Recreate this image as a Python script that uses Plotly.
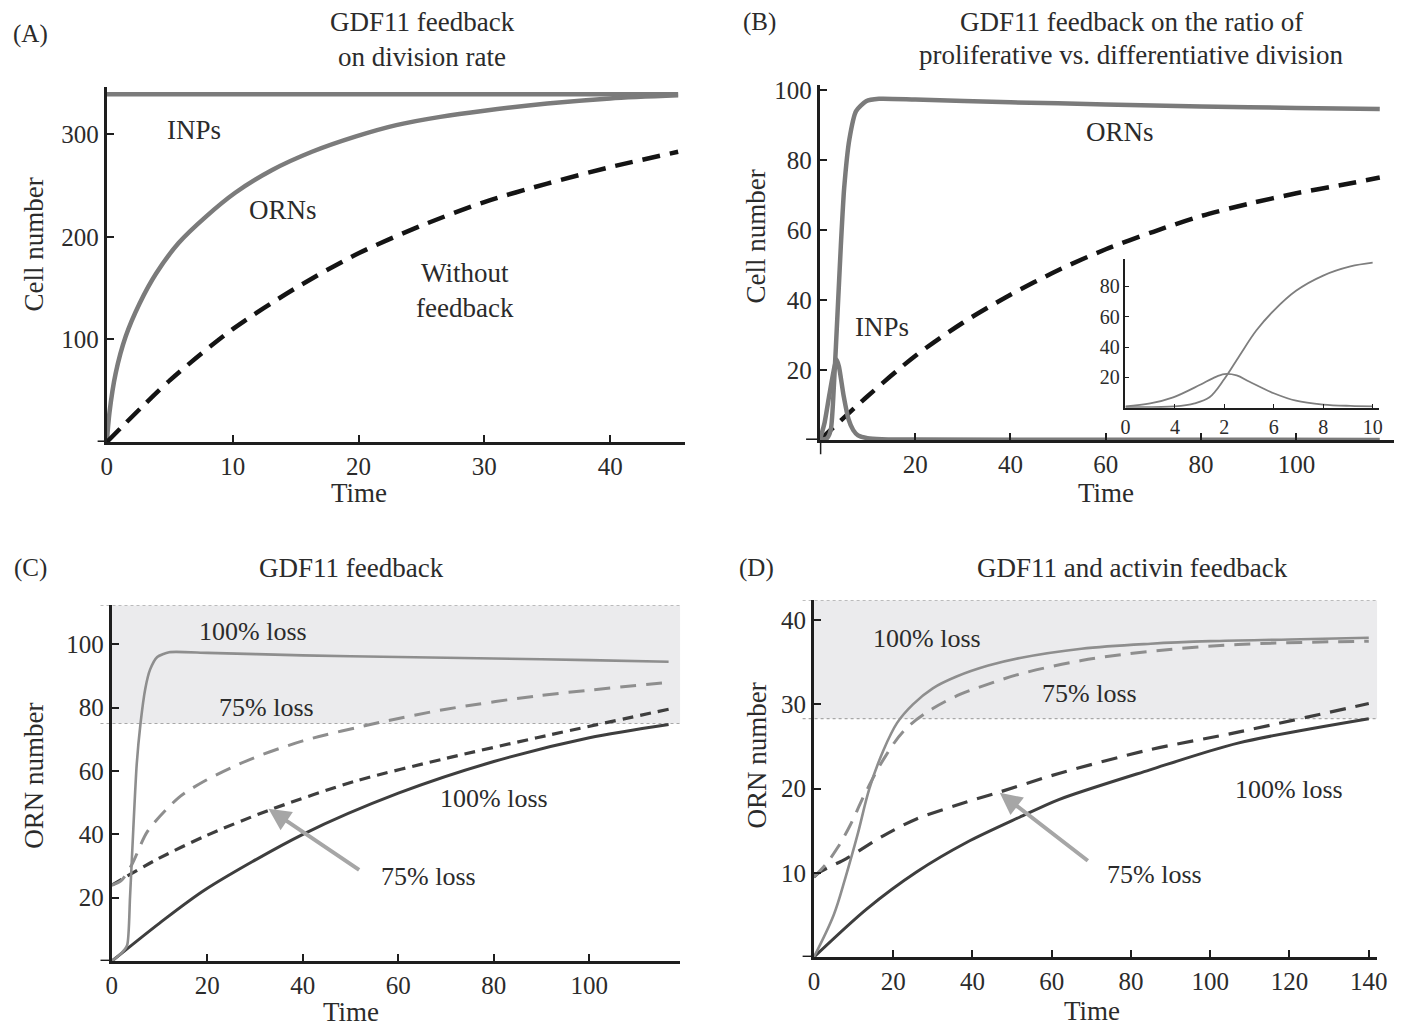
import plotly.graph_objects as go

W, H = 1405, 1027
FONT = "Liberation Serif"
TXT = "#2b2b2b"

# ---------------- data ----------------
# Panel A
a_t_orn = [0, 0.2, 0.7, 1.5, 2.6, 3.9, 5.7, 7.9, 10.2, 13.1, 16.3, 19.8, 23.0, 26.5, 30.0, 35.0, 40.0, 45.4]
a_orn = [0, 28, 67, 103, 135, 164, 194, 220, 243, 265, 283, 298, 309, 317, 323, 330, 335, 338]
a_t_inp = [0, 10, 20, 30, 40, 45.4]
a_inp = [339, 339, 339, 339, 339, 339]
a_t_nofb = [0, 5, 10, 15, 20, 25, 30, 35, 40, 45.4]
a_nofb = [0, 60, 110, 150, 184, 211, 234, 252, 268, 283]

# Panel B
b_t_orn = [0, 1.5, 2.3, 3.0, 3.7, 4.4, 5.1, 6.2, 7.6, 9.7, 12.4, 20, 40, 60, 80, 100, 117.5]
b_orn = [0, 0.5, 3, 17, 36, 55.5, 72, 86, 94, 96.8, 97.5, 97.3, 96.5, 95.9, 95.3, 94.9, 94.6]
b_t_inp = [0, 1, 2, 3, 3.5, 4, 5, 6, 7, 8, 10, 13, 20, 117.5]
b_inp = [0, 5, 13, 20.5, 23, 21, 12.5, 6, 2.8, 1.3, 0.5, 0.2, 0.1, 0]
b_t_nofb = [0, 10, 20, 30, 40, 50, 60, 70, 80, 90, 100, 110, 117.5]
b_nofb = [0, 12.5, 24, 33.5, 41.5, 48.5, 54.5, 59.5, 64, 67.5, 70.5, 73, 75]

# Panel B inset
in_t_inp = [0, 1, 1.93, 3, 3.55, 4, 4.5, 5, 6, 6.9, 8, 9.1, 10]
in_inp = [1, 2.9, 6.9, 15, 19.6, 22.2, 21.3, 17.3, 9.6, 4.7, 2.2, 1.3, 1.0]
in_t_orn = [0, 2, 2.8, 3.4, 4.0, 4.6, 5.3, 6.0, 6.9, 8, 9.1, 10]
in_orn = [0.5, 1, 3, 7, 19, 34, 51, 64, 77, 87, 93, 95.5]
in_tickvals = [0, 2, 4, 6, 8, 10]
in_ticktext = ["0", "4", "2", "6", "8", "10"]

# Panel C
c_t_100g = [0, 2, 3.2, 3.8, 4.5, 5.2, 6, 7, 8, 9.5, 12, 20, 40, 60, 80, 100, 116.6]
c_100g = [0, 2.5, 5, 20, 42, 62, 75, 86, 92, 96, 97.5, 97.3, 96.5, 96, 95.5, 95, 94.5]
c_t_75g = [0, 2, 4.2, 7.5, 14, 19.6, 29, 40, 56, 70, 89, 116.6]
c_75g = [24, 25.5, 30.5, 41, 51.6, 57, 63.7, 69.5, 75.3, 79.5, 83.7, 88]
c_t_75k = [0, 9.3, 19.6, 32.7, 51, 70, 89, 116.6]
c_75k = [24, 32, 39.5, 47.5, 56.8, 64, 70.5, 79.5]
c_t_100k = [0, 10, 19.6, 40, 60, 80, 100, 116.6]
c_100k = [0, 12, 22.6, 40, 53, 63, 70.5, 74.7]
c_band = [75, 112.3]
c_arrow_tail = [52.1, 28.5]
c_arrow_head = [32.8, 48.1]

# Panel D
d_t_100g = [0, 5, 8, 11, 14, 17.5, 21, 25, 30, 36, 44, 52, 67.5, 85, 100, 120, 140]
d_100g = [0, 5, 9.5, 14.5, 20, 24.5, 27.8, 30.0, 31.9, 33.3, 34.6, 35.5, 36.6, 37.2, 37.5, 37.7, 37.9]
d_t_75g = [0, 3, 6, 9, 13, 18, 23, 30, 37, 44, 52, 67.5, 85, 107, 140]
d_75g = [9.5, 11, 13, 15.5, 19.5, 23.8, 27, 29.5, 31.2, 32.4, 33.6, 35.2, 36.3, 37.1, 37.5]
d_t_75k = [0, 1.5, 8.2, 17.5, 25.9, 38.5, 46.9, 61.8, 84.6, 107, 140]
d_75k = [9.5, 10.1, 11.7, 14.4, 16.4, 18.4, 19.6, 21.8, 24.6, 26.7, 30.1]
d_t_100k = [0, 13.3, 25.9, 38.5, 51.9, 61.8, 84.6, 107, 140]
d_100k = [0, 5.7, 10.1, 13.6, 16.6, 18.7, 22.2, 25.4, 28.3]
d_band = [28.3, 42.35]
d_arrow_tail = [69.5, 11.3]
d_arrow_head = [46.9, 19.5]

# tick values
a_xticks = [0, 10, 20, 30, 40]
a_yticks = [100, 200, 300]
b_xticks = [20, 40, 60, 80, 100]
b_yticks = [20, 40, 60, 80, 100]
c_xticks = [0, 20, 40, 60, 80, 100]
c_yticks = [20, 40, 60, 80, 100]
d_xticks = [0, 20, 40, 60, 80, 100, 120, 140]
d_yticks = [10, 20, 30, 40]
in_yticks = [20, 40, 60, 80]

# ---------------- helpers ----------------
# the page is photographed with a small offset/scale; compensate so that
# reference pixel positions land where they should
OX, OY, SC = 13.0, 17.0, 0.99


def qx(px):
    return (px - OX) / SC


def qy(py):
    return (py - OY) / SC


def xdom(p0, p1):
    return [qx(p0) / W, qx(p1) / W]


def ydom(top, bottom):
    return [1 - qy(bottom) / H, 1 - qy(top) / H]


def P(px, py):
    return qx(px) / W, 1 - qy(py) / H


GRAY = "#7b7b7b"
BLACK = "#141414"
DARK = "#3e3e3e"
LGRAY = "#8e8e8e"

fig = go.Figure()


def line(x, y, xa, ya, color, width, dash="solid", smoothing=0.8):
    fig.add_trace(go.Scatter(x=x, y=y, xaxis=xa, yaxis=ya, mode="lines",
                             line=dict(color=color, width=width, dash=dash,
                                       shape="spline", smoothing=smoothing),
                             hoverinfo="skip", showlegend=False))


# Panel A
line(a_t_inp, a_inp, "x", "y", GRAY, 4.5)
line(a_t_orn, a_orn, "x", "y", GRAY, 4.5)
line(a_t_nofb, a_nofb, "x", "y", BLACK, 4.5, "18px,10px")
# Panel B
line(b_t_nofb, b_nofb, "x2", "y2", BLACK, 4.5, "18px,10px")
line(b_t_inp, b_inp, "x2", "y2", GRAY, 4.5, smoothing=0.6)
line(b_t_orn, b_orn, "x2", "y2", GRAY, 4.5, smoothing=0.6)
# inset
line(in_t_inp, in_inp, "x5", "y5", "#7e7e7e", 1.8, smoothing=1.0)
line(in_t_orn, in_orn, "x5", "y5", "#7e7e7e", 1.8, smoothing=1.0)
# Panel C
line(c_t_100k, c_100k, "x3", "y3", DARK, 3)
line(c_t_75k, c_75k, "x3", "y3", DARK, 3.2, "11px,7px")
line(c_t_75g, c_75g, "x3", "y3", LGRAY, 3, "16px,10px")
line(c_t_100g, c_100g, "x3", "y3", LGRAY, 2.6, smoothing=0.6)
# Panel D
line(d_t_100k, d_100k, "x4", "y4", DARK, 3)
line(d_t_75k, d_75k, "x4", "y4", DARK, 3.2, "16px,10px")
line(d_t_75g, d_75g, "x4", "y4", LGRAY, 3, "16px,10px", smoothing=1.0)
line(d_t_100g, d_100g, "x4", "y4", LGRAY, 2.6, smoothing=1.0)


def axis(domain, rng, tickvals, anchor, size=25, lw=3, ticklen=7, ticktext=None):
    d = dict(domain=domain, range=rng, tickvals=tickvals, anchor=anchor,
             showline=True, linecolor="#1e1e1e", linewidth=lw,
             ticks="inside", ticklen=ticklen, tickwidth=2, tickcolor="#1e1e1e",
             showgrid=False, zeroline=False,
             tickfont=dict(family=FONT, size=size, color=TXT))
    if ticktext is not None:
        d["ticktext"] = ticktext
    return d


layout = dict(
    width=W, height=H, margin=dict(l=0, r=0, t=0, b=0),
    paper_bgcolor="white", plot_bgcolor="rgba(0,0,0,0)",
    showlegend=False,
    xaxis=axis(xdom(106, 685), [0, 45.95], a_xticks, "y"),
    yaxis=axis(ydom(88, 442), [0, 346], a_yticks, "x"),
    xaxis2=axis(xdom(820, 1395), [0, 120.5], b_xticks, "y2"),
    yaxis2=axis(ydom(86, 440), [0, 101.4], b_yticks, "x2"),
    xaxis3=axis(xdom(111, 680), [0, 119.0], c_xticks, "y3"),
    yaxis3=axis(ydom(605, 960), [0, 112.3], c_yticks, "x3"),
    xaxis4=axis(xdom(814, 1378), [0, 142.1], d_xticks, "y4"),
    yaxis4=axis(ydom(600, 956), [0, 42.35], d_yticks, "x4"),
    xaxis5=axis(xdom(1126, 1380), [0, 10.26], in_tickvals, "y5", size=20, lw=1.5,
                ticklen=4, ticktext=in_ticktext),
    yaxis5=axis(ydom(259, 408), [0, 98.2], in_yticks, "x5", size=20, lw=1.5, ticklen=4),
)
layout["xaxis5"]["tickwidth"] = 1
layout["yaxis5"]["tickwidth"] = 1
layout["xaxis5"]["ticklabelstandoff"] = 0
layout["yaxis5"]["ticklabelstandoff"] = 0

shapes = []
# shaded bands (C, D)
for xr, yr, band in (("x3", "y3", c_band), ("x4", "y4", d_band)):
    shapes.append(dict(type="rect", xref=xr + " domain", yref=yr, x0=0, x1=1,
                       y0=band[0], y1=band[1], fillcolor="#ebebed",
                       line=dict(width=0), layer="below"))
    for yv in band:
        shapes.append(dict(type="line", xref=xr + " domain", yref=yr, x0=-0.02, x1=1,
                           y0=yv, y1=yv, line=dict(color="#a8a8a8", width=1.2, dash="3px,3px"),
                           layer="below"))
# axis overhangs (crossing axes)
for xr, yr, ov in (("x", "y", 0.016), ("x2", "y2", 0.024), ("x3", "y3", 0.02), ("x4", "y4", 0.02)):
    shapes.append(dict(type="line", xref=xr + " domain", yref=yr, x0=-ov, x1=0,
                       y0=0, y1=0, line=dict(color="#1e1e1e", width=3)))
shapes.append(dict(type="line", xref="x2", yref="y2 domain", x0=0, x1=0,
                   y0=-0.04, y1=0, line=dict(color="#1e1e1e", width=3)))
layout["shapes"] = shapes

ann = []


def txt(x, y, s, size=27, xref="paper", yref="paper", angle=0, xanchor="center", yanchor="middle"):
    ann.append(dict(x=x, y=y, xref=xref, yref=yref, text=s, showarrow=False,
                    textangle=angle, xanchor=xanchor, yanchor=yanchor,
                    font=dict(family=FONT, size=size, color=TXT)))


# panel letters & titles
for s, (px, py) in (("(A)", (30, 35)), ("(B)", (760, 23)), ("(C)", (30, 568)), ("(D)", (757, 568))):
    x, y = P(px, py)
    txt(x, y, s, size=25)
x, y = P(422, 40); txt(x, y, "GDF11 feedback<br>on division rate", size=27)
x, y = P(1132, 23); txt(x, y, "GDF11 feedback on the ratio of", size=27)
x, y = P(1132, 56); txt(x, y, "proliferative vs. differentiative division", size=27)
x, y = P(351, 568); txt(x, y, "GDF11 feedback", size=27)
x, y = P(1133, 568); txt(x, y, "GDF11 and activin feedback", size=27)
# axis titles
for s, (px, py), ang in (("Cell number", (33, 245), -90), ("Cell number", (757, 237), -90),
                         ("ORN number", (33, 775), -90), ("ORN number", (757, 755), -90),
                         ("Time", (358, 493), 0), ("Time", (1107, 493), 0),
                         ("Time", (350, 1011), 0), ("Time", (1093, 1010), 0)):
    x, y = P(px, py)
    txt(x, y, s, size=27, angle=ang)
# curve labels
txt(6.9, 304, "INPs", xref="x", yref="y")
txt(14, 226, "ORNs", xref="x", yref="y")
txt(28.5, 148, "Without<br>feedback", xref="x", yref="y")
txt(62.9, 88, "ORNs", xref="x2", yref="y2")
txt(13, 32.4, "INPs", xref="x2", yref="y2")
txt(29.5, 104.1, "100% loss", xref="x3", yref="y3", size=26)
txt(32.4, 80, "75% loss", xref="x3", yref="y3", size=26)
txt(80.1, 51.3, "100% loss", xref="x3", yref="y3", size=26)
txt(66.3, 26.6, "75% loss", xref="x3", yref="y3", size=26)
txt(28.5, 37.8, "100% loss", xref="x4", yref="y4", size=26)
txt(69.5, 31.3, "75% loss", xref="x4", yref="y4", size=26)
txt(119.9, 19.9, "100% loss", xref="x4", yref="y4", size=26)
txt(85.9, 9.8, "75% loss", xref="x4", yref="y4", size=26)
# arrows
for xr, yr, tail, head in (("x3", "y3", c_arrow_tail, c_arrow_head), ("x4", "y4", d_arrow_tail, d_arrow_head)):
    ann.append(dict(x=head[0], y=head[1], ax=tail[0], ay=tail[1], xref=xr, yref=yr,
                    axref=xr, ayref=yr, text="", showarrow=True, arrowhead=2,
                    arrowsize=1.1, arrowwidth=4, arrowcolor="#a6a6a6"))
layout["annotations"] = ann

fig.update_layout(**layout)
fig.write_html("out.html")
